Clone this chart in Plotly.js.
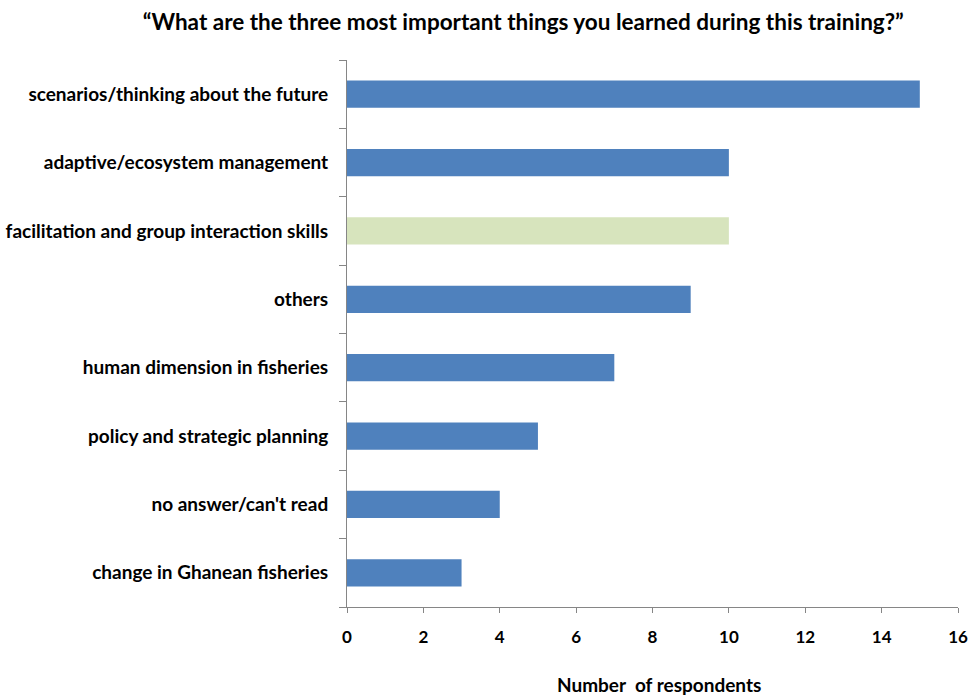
<!DOCTYPE html>
<html><head><meta charset="utf-8">
<script src="https://cdn.plot.ly/plotly-3.0.1.min.js"></script>
<style>body{margin:0;padding:0;background:#fff}#chart{width:969px;height:696px}</style>
</head><body><div id="chart"></div>
<script>
const categories = [
  "scenarios/thinking about the future",
  "adaptive/ecosystem management",
  "facilitation and group interaction skills",
  "others",
  "human dimension in fisheries",
  "policy and strategic planning",
  "no answer/can't read",
  "change in Ghanean fisheries"
];
const respondents = [15, 10, 10, 9, 7, 5, 4, 3];
const barColors = ["#4F81BD","#4F81BD","#D7E4BD","#4F81BD","#4F81BD","#4F81BD","#4F81BD","#4F81BD"];
const xTicks = [0,2,4,6,8,10,12,14,16];

const font = "Lato, 'Open Sans', sans-serif";
const trace = {
  type: "bar", orientation: "h",
  x: respondents, y: categories,
  marker: {color: barColors, line: {width: 0}},
  width: 0.4, hoverinfo: "x+y"
};
const layout = {
  width: 969, height: 696,
  margin: {l: 347, r: 11, t: 60, b: 89},
  paper_bgcolor: "#fff", plot_bgcolor: "#fff",
  showlegend: false,
  title: {text: "“What are the three most important things you learned during this training?”",
    font: {family: font, size: 22.5, color: "#000", weight: "bold"},
    x: 0.540, xanchor: "center", y: 0.968, yanchor: "middle", yref: "container"},
  xaxis: {range: [0,16], tickvals: xTicks, ticktext: xTicks.map(String),
    showgrid: false, zeroline: false, showline: true, linecolor: "#868686", linewidth: 1,
    ticks: "outside", ticklen: 5, tickcolor: "#868686",
    tickfont: {family: font, size: 17, color: "#000", weight: "bold"},
    ticklabelstandoff: 10},
  yaxis: {type: "category", categoryorder: "array", categoryarray: categories.slice().reverse(),
    showgrid: false, zeroline: false, showline: true, linecolor: "#868686", linewidth: 1,
    ticks: "outside", ticklen: 7, tickcolor: "#868686", tickson: "boundaries",
    tickfont: {family: font, size: 19, color: "#000", weight: "bold"},
    ticklabelstandoff: 14},
  annotations: [{text: "Number&nbsp;&nbsp;of respondents", xref: "paper", yref: "paper",
    x: 0.5106, y: -0.1408, xanchor: "center", yanchor: "middle", showarrow: false,
    font: {family: font, size: 19, color: "#000", weight: "bold"}}]
};
Plotly.newPlot("chart", [trace], layout, {displayModeBar: false, staticPlot: true});
</script></body></html>
